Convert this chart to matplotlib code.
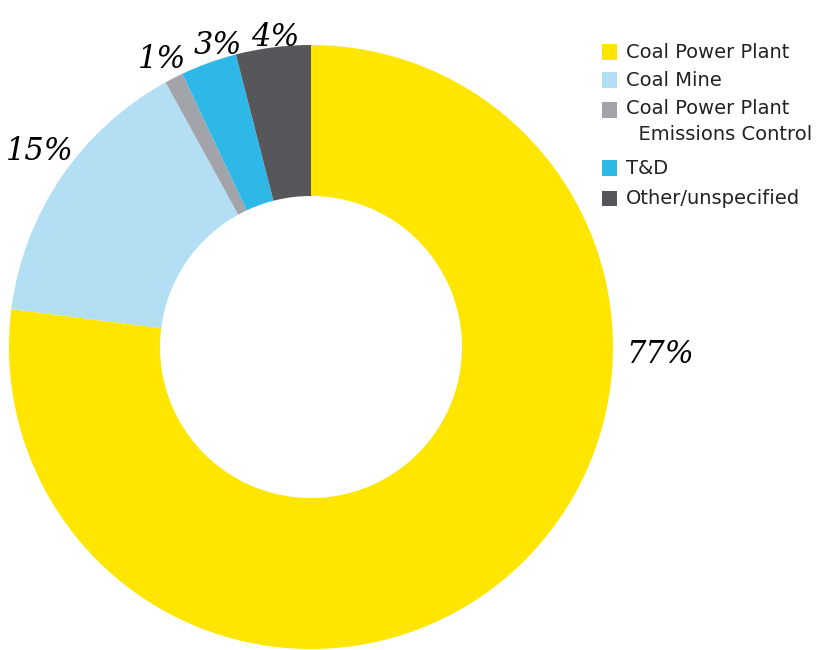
import matplotlib.pyplot as plt
from matplotlib.patches import Rectangle

# Data
categories = ['Coal Power Plant', 'Coal Mine', 'Coal Power Plant\n  Emissions Control',
              'T&D', 'Other/unspecified']
shares = [77, 15, 1, 3, 4]
pct_labels = ['77%', '15%', '1%', '3%', '4%']
colors = ['#FFE600', '#B3DFF5', '#A3A4AA', '#2DB8E8', '#57565B']

W, H = 830, 650
fig = plt.figure(figsize=(W / 100, H / 100), dpi=100)

# donut centre (311, 347) px, radius 302 px
cx, cy, R = 311, 347, 302
ax = fig.add_axes([(cx - R) / W, (H - cy - R) / H, 2 * R / W, 2 * R / H])
wedges, _ = ax.pie(shares, colors=colors, startangle=90, counterclock=False,
                   radius=1, wedgeprops=dict(width=0.5, linewidth=0))
ax.set_xlim(-1, 1)
ax.set_ylim(-1, 1)
ax.set_aspect('equal')
ax.axis('off')

# handwritten-looking percentage labels (pixel positions of label centres)
label_px = [(660, 355), (40, 152), (162, 60), (218, 45), (275, 38)]
for txt, (px, py) in zip(pct_labels, label_px):
    fig.text(px / W, 1 - py / H, txt, ha='center', va='center', fontsize=22,
             style='italic', family='DejaVu Serif', color='black')

# legend (square centre y for each entry)
rows_y = [52, 80, 110, 168, 198]
for cat, col, y in zip(categories, colors, rows_y):
    fig.patches.append(Rectangle((602 / W, 1 - (y + 7.5) / H), 15 / W, 15 / H,
                                 transform=fig.transFigure, facecolor=col,
                                 edgecolor='none'))
    if '\n' in cat:
        fig.text(626 / W, 1 - (y - 11) / H, cat, ha='left', va='top',
                 fontsize=14, color='#222222', linespacing=1.5)
    else:
        fig.text(626 / W, 1 - y / H, cat, ha='left', va='center',
                 fontsize=14, color='#222222')

fig.savefig('out.png', dpi=100)
